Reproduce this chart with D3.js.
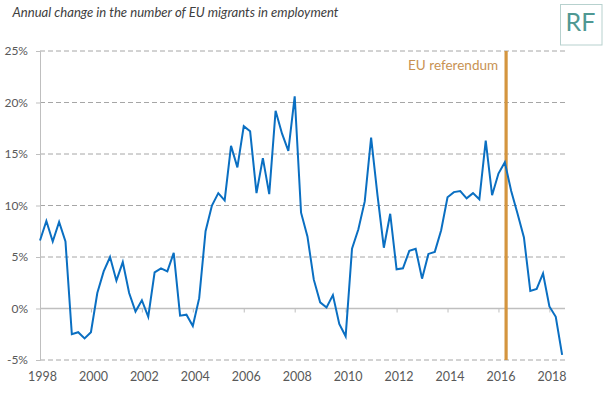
<!DOCTYPE html>
<html lang="en">
<head>
    <meta charset="UTF-8">
    <title>EU migrants in employment</title>
    <script src="https://d3js.org/d3.v7.min.js"></script>
    <style>
        body {
            margin: 0;
            background: #ffffff;
            font-family: Lato, "Open Sans", sans-serif;
        }
        .grid line {
            stroke: #a6a6a6;
            stroke-dasharray: 5,3;
        }
        .tick-label {
            font-size: 12.5px;
            fill: #595959;
        }
    </style>
</head>
<body>
    <svg id="chart" width="605" height="397"></svg>

    <script>
        // Annual change (%) in EU migrants in employment, quarterly from 1998 Q1
        const startYear = 1998;
        const changeValues = [
            6.6, 8.5, 6.5, 8.4, 6.5, -2.5, -2.3, -2.9, -2.3, 1.5, 3.6, 5.0,
            2.7, 4.5, 1.5, -0.3, 0.8, -0.8, 3.5, 3.9, 3.6, 5.4, -0.7, -0.6,
            -1.7, 1.0, 7.5, 10.0, 11.2, 10.5, 15.8, 13.7, 17.7, 17.2, 11.2, 14.6,
            11.1, 19.2, 17.0, 15.3, 20.6, 9.3, 7.0, 2.8, 0.6, 0.1, 1.3, -1.5,
            -2.7, 5.8, 7.7, 10.4, 16.6, 11.0, 5.9, 9.2, 3.8, 3.9, 5.6, 5.8,
            2.9, 5.3, 5.5, 7.6, 10.8, 11.3, 11.4, 10.7, 11.2, 10.6, 16.3, 11.0,
            13.1, 14.2, 11.4, 9.2, 6.9, 1.7, 1.9, 3.4, 0.2, -0.8, -4.5
        ];
        const xTicks = [1998, 2000, 2002, 2004, 2006, 2008, 2010, 2012, 2014, 2016, 2018];
        const yTicks = [-5, 0, 5, 10, 15, 20, 25];
        const referendumDate = 2016.3;

        const data = changeValues.map((v, i) => ({ date: startYear + i / 4, value: v }));

        const svg = d3.select("#chart");

        const x = d3.scaleLinear().domain([1998, 2018]).range([40, 549.4]);
        const y = d3.scaleLinear().domain([-5, 25]).range([360, 51]);
        const gridRight = 565;

        // title
        svg.append("text")
            .attr("x", 12.5)
            .attr("y", 17)
            .attr("textLength", 326)
            .attr("lengthAdjust", "spacingAndGlyphs")
            .style("font-style", "italic")
            .style("font-size", "14px")
            .style("fill", "#404040")
            .text("Annual change in the number of EU migrants in employment");

        // RF badge
        svg.append("rect")
            .attr("x", 560.5).attr("y", 4.5)
            .attr("width", 41.5).attr("height", 40.5)
            .attr("fill", "#fff")
            .attr("stroke", "#b7d1ce");
        svg.append("text")
            .attr("x", 580.5).attr("y", 31)
            .attr("text-anchor", "middle")
            .style("font-size", "25px")
            .style("fill", "#4f9893")
            .text("RF");

        // dashed gridlines
        svg.append("g").attr("class", "grid")
            .selectAll("line")
            .data(yTicks.filter(d => d !== 0))
            .join("line")
            .attr("x1", 40).attr("x2", gridRight)
            .attr("y1", d => y(d)).attr("y2", d => y(d));

        // y axis
        const yAxis = svg.append("g")
            .attr("transform", "translate(40,0)")
            .call(d3.axisLeft(y).tickValues(yTicks).tickSize(4).tickFormat(d => d + "%"));
        yAxis.select(".domain").attr("stroke", "#bfbfbf");
        yAxis.selectAll(".tick line").attr("stroke", "#bfbfbf");
        yAxis.selectAll(".tick text")
            .attr("class", "tick-label")
            .attr("x", -12)
            .style("font-family", "Lato, sans-serif")
            .style("font-size", "12px");

        // zero line with year ticks
        const xAxis = svg.append("g")
            .attr("transform", `translate(0,${y(0)})`)
            .call(d3.axisBottom(x).tickValues(xTicks).tickSize(4).tickFormat(d3.format("d")));
        xAxis.select(".domain").remove();
        xAxis.selectAll(".tick line").attr("stroke", "#bfbfbf");
        xAxis.selectAll(".tick text").remove();
        svg.append("line")
            .attr("x1", 40).attr("x2", gridRight)
            .attr("y1", y(0)).attr("y2", y(0))
            .attr("stroke", "#bfbfbf")
            .attr("stroke-width", 1.5);

        // year labels along the bottom
        svg.append("g")
            .selectAll("text")
            .data(xTicks)
            .join("text")
            .attr("class", "tick-label")
            .attr("x", d => x(d) + 2.5)
            .attr("y", 381)
            .attr("text-anchor", "middle")
            .text(d => d);

        // referendum marker
        svg.append("line")
            .attr("x1", x(referendumDate)).attr("x2", x(referendumDate))
            .attr("y1", y(25)).attr("y2", y(-5))
            .attr("stroke", "#d4953f")
            .attr("stroke-width", 3.2);
        svg.append("text")
            .attr("x", x(referendumDate) - 8)
            .attr("y", 70)
            .attr("text-anchor", "end")
            .style("font-size", "13.5px")
            .style("fill", "#c89252")
            .text("EU referendum");

        // series line
        const line = d3.line()
            .x(d => x(d.date))
            .y(d => y(d.value));

        svg.append("path")
            .datum(data)
            .attr("fill", "none")
            .attr("stroke", "#0a6fc2")
            .attr("stroke-width", 2)
            .attr("stroke-linejoin", "miter")
            .attr("d", line);
    </script>
</body>
</html>
